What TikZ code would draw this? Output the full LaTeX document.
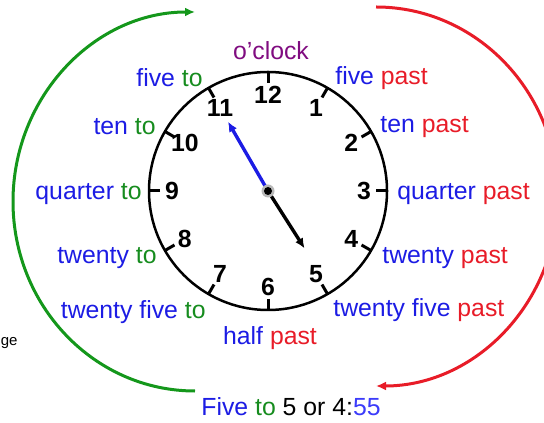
\documentclass[tikz,border=0pt]{standalone}
\usepackage{fontspec}
\setmainfont{Liberation Sans}
\usetikzlibrary{arrows.meta}

\definecolor{wordblue}{RGB}{28,28,228}
\definecolor{togreen}{RGB}{22,140,30}
\definecolor{pastred}{RGB}{232,28,40}
\definecolor{oclockpurple}{RGB}{128,12,128}
\definecolor{lightblue}{RGB}{60,60,250}

\begin{document}
\begin{tikzpicture}[x=0.5pt, y=0.5pt, font=\fontsize{12.4}{14}\selectfont,
    left label/.style={anchor=base east, inner sep=0pt, text=wordblue},
    right label/.style={anchor=base west, inner sep=0pt, text=wordblue},
    numeral/.style={font=\fontsize{12.4}{14}\selectfont\bfseries},
    tick mark/.style={line width=1.5pt},
    hand/.style={line width=1.7pt, -{Latex[length=5pt,width=4.5pt]}},
    round arrow/.style={line width=1.5pt, -{Latex[length=5pt,width=4.5pt]}}]
    \clip (0,0) rectangle (544,422);

    % clock face
    \coordinate (hub) at (268,231);
    \draw[line width=1.25pt] (hub) circle (119);
    \foreach \a in {0,30,...,330}
        \draw[tick mark] ([shift={(\a:108)}]hub) -- ([shift={(\a:119)}]hub);
    \foreach \n [evaluate=\n as \a using 90-30*\n] in {1,...,12}
        \node[numeral] (num\n) at ([shift={(\a:96)}]hub) {\n};

    % hands at 4:55
    \coordinate (minute tip) at ([shift={(120:80)}]hub);
    \coordinate (hour tip) at ([shift={(-57.5:68)}]hub);
    \draw[hand, wordblue] (hub) -- (minute tip);
    \draw[hand, black] (hub) -- (hour tip);
    \fill[gray!55] (hub) circle (6.5);
    \fill[black] (hub) circle (4);

    % "to" side
    \node[left label] (fiveto) at (203,335) {five \textcolor{togreen}{to}};
    \node[left label] (tento) at (156,287) {ten \textcolor{togreen}{to}};
    \node[left label] (quarterto) at (142,222) {quarter \textcolor{togreen}{to}};
    \node[left label] (twentyto) at (157,158) {twenty \textcolor{togreen}{to}};
    \node[left label] (twentyfiveto) at (206,104) {twenty five \textcolor{togreen}{to}};

    % "past" side
    \node[anchor=base, text=oclockpurple] (oclock) at (271,362) {o\symbol{39}clock};
    \node[right label] (fivepast) at (335,337) {five \textcolor{pastred}{past}};
    \node[right label] (tenpast) at (380,289) {ten \textcolor{pastred}{past}};
    \node[right label] (quarterpast) at (397,222) {quarter \textcolor{pastred}{past}};
    \node[right label] (twentypast) at (382,158) {twenty \textcolor{pastred}{past}};
    \node[right label] (twentyfivepast) at (333,105) {twenty five \textcolor{pastred}{past}};
    \node[anchor=base, text=wordblue] (halfpast) at (270,78) {half \textcolor{pastred}{past}};

    % sweeping arrows
    \coordinate (to start) at (195,31);
    \coordinate (past start) at (376,415);
    \draw[round arrow, togreen!90!green] (to start)
        arc[start angle=270, end angle=90, x radius=182, y radius=189.5];
    \draw[round arrow, pastred] (past start)
        arc[start angle=90, end angle=-90, x radius=182, y radius=189.5];

    % example time
    \node[anchor=base west, inner sep=0pt] (example) at (201,7)
        {\textcolor{wordblue}{Five} \textcolor{togreen}{to} 5 or 4:\textcolor{lightblue}{55}};
    \node[anchor=base west, inner sep=0pt, font=\fontsize{7.5}{9}\selectfont] (cutword) at (0.5,76) {ge};
\end{tikzpicture}
\end{document}
